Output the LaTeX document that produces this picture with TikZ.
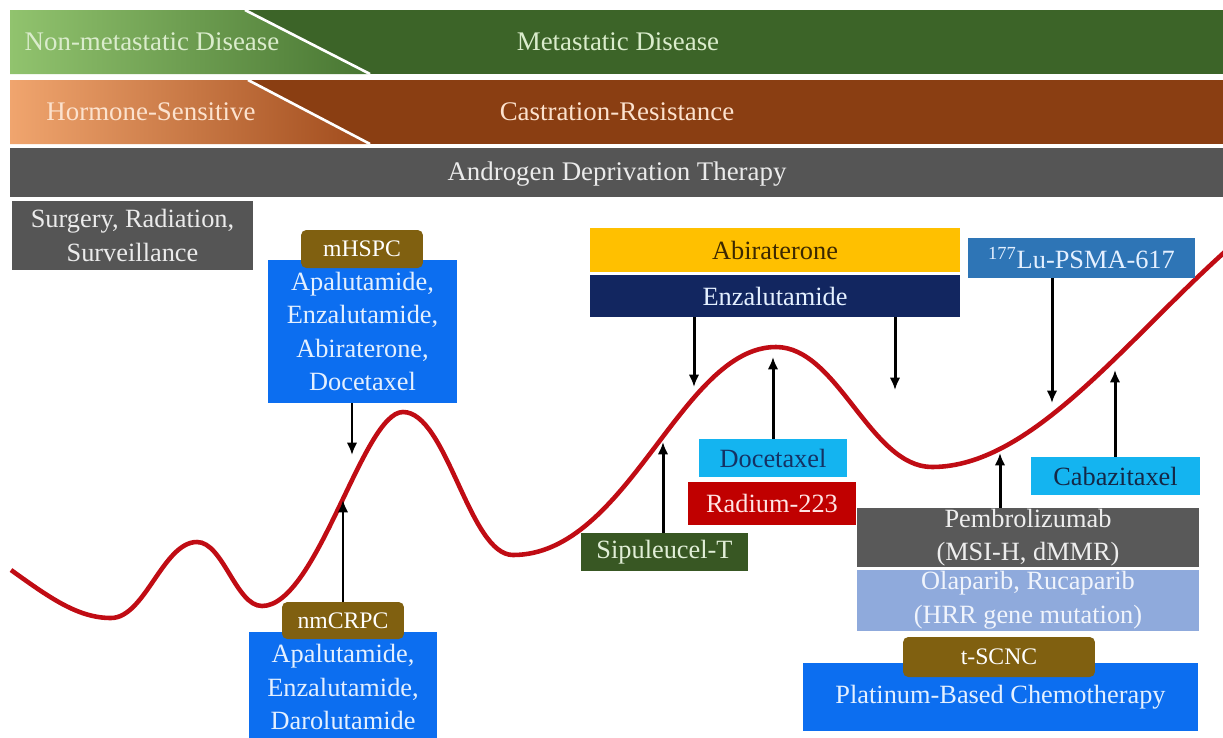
\documentclass[tikz,border=0pt]{standalone}
\usepackage{fontspec}
\setmainfont{Liberation Serif}
\usetikzlibrary{arrows.meta}
\definecolor{gdark}{RGB}{60,100,40}
\definecolor{glight}{RGB}{145,195,110}
\definecolor{gmid}{RGB}{72,118,50}
\definecolor{bdark}{RGB}{138,62,18}
\definecolor{blight}{RGB}{240,165,110}
\definecolor{bmid}{RGB}{160,75,28}
\definecolor{slate}{RGB}{85,85,85}
\definecolor{tagbrown}{RGB}{128,96,16}
\definecolor{rxblue}{RGB}{12,110,240}
\definecolor{abigold}{RGB}{255,192,0}
\definecolor{enznavy}{RGB}{18,38,96}
\definecolor{lublue}{RGB}{46,117,182}
\definecolor{skyblue}{RGB}{20,180,240}
\definecolor{radred}{RGB}{192,0,0}
\definecolor{sipgreen}{RGB}{56,87,35}
\definecolor{pemgrey}{RGB}{89,89,89}
\definecolor{olapblue}{RGB}{143,170,220}
\definecolor{curvered}{RGB}{192,12,20}
\definecolor{paleblue}{RGB}{228,240,255}
\tikzset{
    box/.style={rectangle, inner sep=0pt, align=center, font=\fontsize{15}{19}\selectfont},
    tag/.style={box, rounded corners=3pt, fill=tagbrown, text=white, font=\fontsize{13.5}{16}\selectfont},
    rx/.style={box, fill=rxblue, text=paleblue},
    arr/.style={-{Latex[length=7pt,width=6pt]}, line width=1.7pt},
    curve/.style={curvered, line width=2.6pt}
}

\begin{document}
\begin{tikzpicture}[x=0.02cm, y=0.02cm]
    \useasboundingbox (0,0) rectangle (1223,-737);
    % disease stage bars
    \fill[gdark] (10,-10) rectangle (1223,-74);
    \shade[left color=glight, right color=gmid] (10,-10) -- (245,-10) -- (370,-74) -- (10,-74) -- cycle;
    \draw[white, line width=1.5pt] (245,-10) -- (370,-74);
    \fill[bdark] (10,-80) rectangle (1223,-144);
    \shade[left color=blight, right color=bmid] (10,-80) -- (248,-80) -- (370,-144) -- (10,-144) -- cycle;
    \draw[white, line width=1.5pt] (248,-80) -- (370,-144);
    \fill[slate] (10,-148) rectangle (1223,-197);
    \node[box, font=\fontsize{15.3}{19}\selectfont, text={rgb,255:red,218;green,236;blue,204}] (nonmet) at (152,-42) {Non-metastatic Disease};
    \node[box, font=\fontsize{15.3}{19}\selectfont, text={rgb,255:red,218;green,236;blue,204}] (met) at (618,-42) {Metastatic Disease};
    \node[box, font=\fontsize{15.3}{19}\selectfont, text={rgb,255:red,252;green,226;blue,206}] (hormone) at (151,-112) {Hormone-Sensitive};
    \node[box, font=\fontsize{15.3}{19}\selectfont, text={rgb,255:red,252;green,226;blue,206}] (castration) at (617,-112) {Castration-Resistance};
    \node[box, font=\fontsize{15.3}{19}\selectfont, text={rgb,255:red,235;green,235;blue,235}] (adt) at (617,-174) {Androgen Deprivation Therapy};
    \node[box, fill=slate, text={rgb,255:red,235;green,235;blue,235}, minimum width=4.82cm, minimum height=1.38cm] (surgery) at (132.5,-235.5) {Surgery, Radiation,\\Surveillance};
    % disease course
    \draw[curve] (11,-570) .. controls (50,-598) and (78,-618) .. (111,-618)
        .. controls (145,-618) and (163,-542) .. (197,-542)
        .. controls (223,-542) and (236,-606) .. (262,-606)
        .. controls (317,-606) and (363,-412) .. (403,-412)
        .. controls (447,-412) and (469,-555) .. (513,-555)
        .. controls (628,-555) and (681,-347) .. (776,-347)
        .. controls (838,-347) and (870,-467) .. (932,-467)
        .. controls (1031,-467) and (1123,-343) .. (1228,-249);
    % treatments
    \node[rx, minimum width=3.78cm, minimum height=2.86cm] (mhspc) at (362.5,-331.5) {Apalutamide,\\Enzalutamide,\\Abiraterone,\\Docetaxel};
    \node[tag, minimum width=2.44cm, minimum height=0.76cm] (mhspctag) at (362,-249) {mHSPC};
    \node[rx, minimum width=3.76cm, minimum height=2.2cm] (nmcrpc) at (343,-687) {Apalutamide,\\Enzalutamide,\\Darolutamide};
    \node[tag, minimum width=2.44cm, minimum height=0.74cm] (nmcrpctag) at (343,-620.5) {nmCRPC};
    \node[box, fill=abigold, text={rgb,255:red,60;green,40;blue,0}, minimum width=7.4cm, minimum height=0.88cm] (abi) at (775,-250) {Abiraterone};
    \node[box, fill=enznavy, text=paleblue, minimum width=7.4cm, minimum height=0.84cm] (enza) at (775,-296) {Enzalutamide};
    \node[box, fill=lublue, text=paleblue, minimum width=4.54cm, minimum height=0.8cm] (lupsma) at (1081.5,-258) {\textsuperscript{177}Lu-PSMA-617};
    \node[box, fill=skyblue, text={rgb,255:red,20;green,50;blue,100}, minimum width=2.96cm, minimum height=0.76cm] (doce) at (773,-458) {Docetaxel};
    \node[box, fill=radred, text={rgb,255:red,255;green,228;blue,228}, minimum width=3.36cm, minimum height=0.86cm] (radium) at (772,-503.5) {Radium-223};
    \node[box, fill=sipgreen, text={rgb,255:red,225;green,238;blue,215}, minimum width=3.34cm, minimum height=0.76cm] (sipu) at (664.5,-552) {Sipuleucel-T};
    \node[box, fill=skyblue, text={rgb,255:red,20;green,40;blue,70}, minimum width=3.38cm, minimum height=0.76cm] (caba) at (1115.5,-476) {Cabazitaxel};
    \node[box, fill=pemgrey, text={rgb,255:red,238;green,238;blue,238}, minimum width=6.84cm, minimum height=1.18cm] (pembro) at (1028,-537.5) {Pembrolizumab\\(MSI-H, dMMR)};
    \node[box, fill=olapblue, text={rgb,255:red,240;green,244;blue,252}, minimum width=6.84cm, minimum height=1.22cm] (olap) at (1028,-600) {Olaparib, Rucaparib\\(HRR gene mutation)};
    \node[rx, minimum width=7.9cm, minimum height=1.36cm] (platinum) at (1000.5,-697) {Platinum-Based Chemotherapy};
    \node[tag, minimum width=3.84cm, minimum height=0.8cm] (tscnc) at (999,-657) {t-SCNC};
    % arrow tips on the curve
    \coordinate (tipmh) at (352,-455);
    \coordinate (tipnm) at (343,-500);
    \coordinate (tipsip) at (663,-442);
    \coordinate (tipenzl) at (694,-387);
    \coordinate (tipenzr) at (895,-390);
    \coordinate (tipdoce) at (773,-357);
    \coordinate (tippem) at (1000,-453);
    \coordinate (tiplu) at (1052,-403);
    \coordinate (tipcaba) at (1115,-370);
    \draw[arr] (mhspc.south -| tipmh) -- (tipmh);
    \draw[arr] (nmcrpctag.north -| tipnm) -- (tipnm);
    \draw[arr] (sipu.north -| tipsip) -- (tipsip);
    \draw[arr] (enza.south -| tipenzl) -- (tipenzl);
    \draw[arr] (enza.south -| tipenzr) -- (tipenzr);
    \draw[arr] (doce.north -| tipdoce) -- (tipdoce);
    \draw[arr] (pembro.north -| tippem) -- (tippem);
    \draw[arr] (lupsma.south -| tiplu) -- (tiplu);
    \draw[arr] (caba.north -| tipcaba) -- (tipcaba);
\end{tikzpicture}
\end{document}
